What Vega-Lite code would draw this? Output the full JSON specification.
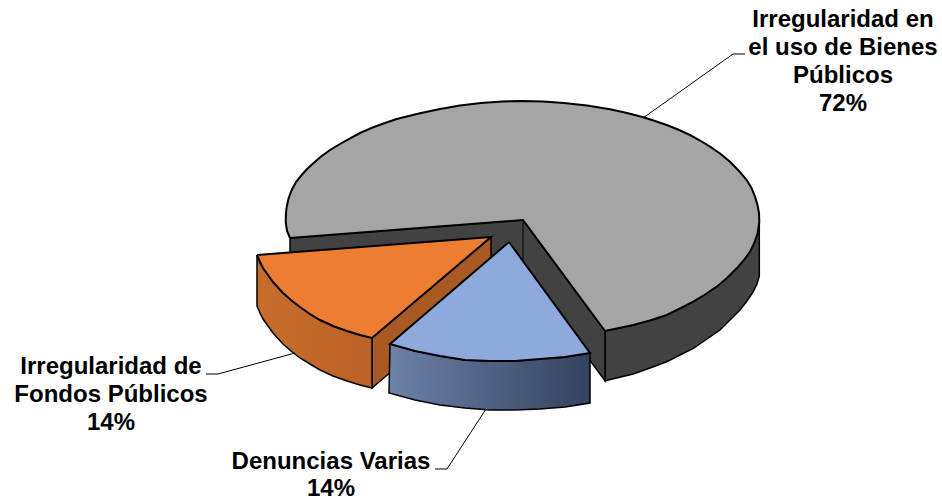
{"$schema":"https://vega.github.io/schema/vega-lite/v6.json","width":942,"height":500,"autosize":{"type":"none"},"padding":0,"background":"white","view":{"stroke":null},
"datasets":{
"outline":[
{"piece":"wallOuter","i":1,"x":605,"y":331},{"piece":"wallOuter","i":2,"x":633.3,"y":325},{"piece":"wallOuter","i":3,"x":666.7,"y":315},{"piece":"wallOuter","i":4,"x":693.3,"y":301.7},{"piece":"wallOuter","i":5,"x":716.7,"y":286.7},{"piece":"wallOuter","i":6,"x":736.7,"y":268.3},{"piece":"wallOuter","i":7,"x":750,"y":251.7},{"piece":"wallOuter","i":8,"x":757.7,"y":233},{"piece":"wallOuter","i":9,"x":759.3,"y":222},{"piece":"wallOuter","i":10,"x":759.3,"y":276},{"piece":"wallOuter","i":11,"x":757,"y":284},{"piece":"wallOuter","i":12,"x":753.3,"y":291.7},{"piece":"wallOuter","i":13,"x":747,"y":301},{"piece":"wallOuter","i":14,"x":740,"y":310},{"piece":"wallOuter","i":15,"x":730,"y":320},{"piece":"wallOuter","i":16,"x":720,"y":330},{"piece":"wallOuter","i":17,"x":707,"y":339},{"piece":"wallOuter","i":18,"x":693.3,"y":348.3},{"piece":"wallOuter","i":19,"x":680,"y":355},{"piece":"wallOuter","i":20,"x":666.7,"y":361.7},{"piece":"wallOuter","i":21,"x":650,"y":368},{"piece":"wallOuter","i":22,"x":633.3,"y":374},{"piece":"wallOuter","i":23,"x":605,"y":380.7},{"piece":"wallOuter","i":24,"x":605,"y":331},
{"piece":"wallInner","i":1,"x":290,"y":238},{"piece":"wallInner","i":2,"x":523,"y":220},{"piece":"wallInner","i":3,"x":605,"y":331},{"piece":"wallInner","i":4,"x":605,"y":380.7},{"piece":"wallInner","i":5,"x":523,"y":270},{"piece":"wallInner","i":6,"x":290,"y":288},{"piece":"wallInner","i":7,"x":290,"y":238},
{"piece":"top","i":1,"x":290,"y":238},{"piece":"top","i":2,"x":287,"y":231},{"piece":"top","i":3,"x":285.7,"y":222},{"piece":"top","i":4,"x":285.9,"y":214},{"piece":"top","i":5,"x":286.7,"y":206.7},{"piece":"top","i":6,"x":288.7,"y":198},{"piece":"top","i":7,"x":291.7,"y":190},{"piece":"top","i":8,"x":296,"y":182},{"piece":"top","i":9,"x":301.7,"y":175},{"piece":"top","i":10,"x":307,"y":169},{"piece":"top","i":11,"x":313.3,"y":163.3},{"piece":"top","i":12,"x":321,"y":156.5},{"piece":"top","i":13,"x":330,"y":150},{"piece":"top","i":14,"x":340,"y":144},{"piece":"top","i":15,"x":350,"y":138.3},{"piece":"top","i":16,"x":361,"y":132.5},{"piece":"top","i":17,"x":373.3,"y":127.3},{"piece":"top","i":18,"x":385,"y":123},{"piece":"top","i":19,"x":396.7,"y":119},{"piece":"top","i":20,"x":420,"y":113.3},{"piece":"top","i":21,"x":440,"y":109},{"piece":"top","i":22,"x":460,"y":105.5},{"piece":"top","i":23,"x":481,"y":103},{"piece":"top","i":24,"x":502,"y":101.5},{"piece":"top","i":25,"x":522,"y":101},{"piece":"top","i":26,"x":543,"y":101.5},{"piece":"top","i":27,"x":564,"y":103},{"piece":"top","i":28,"x":587,"y":105.5},{"piece":"top","i":29,"x":610,"y":109.3},{"piece":"top","i":30,"x":627,"y":113},{"piece":"top","i":31,"x":643.3,"y":117.3},{"piece":"top","i":32,"x":655,"y":121},{"piece":"top","i":33,"x":666.7,"y":125},{"piece":"top","i":34,"x":678,"y":129.5},{"piece":"top","i":35,"x":690,"y":135},{"piece":"top","i":36,"x":700,"y":140.5},{"piece":"top","i":37,"x":710,"y":146.7},{"piece":"top","i":38,"x":720,"y":153.5},{"piece":"top","i":39,"x":730,"y":161.7},{"piece":"top","i":40,"x":739,"y":171},{"piece":"top","i":41,"x":746.7,"y":180},{"piece":"top","i":42,"x":751.5,"y":188},{"piece":"top","i":43,"x":755,"y":196.7},{"piece":"top","i":44,"x":757.5,"y":205},{"piece":"top","i":45,"x":759,"y":213},{"piece":"top","i":46,"x":759.3,"y":222},{"piece":"top","i":47,"x":757.7,"y":233},{"piece":"top","i":48,"x":754.5,"y":242.5},{"piece":"top","i":49,"x":750,"y":251.7},{"piece":"top","i":50,"x":744,"y":260},{"piece":"top","i":51,"x":736.7,"y":268.3},{"piece":"top","i":52,"x":727,"y":278},{"piece":"top","i":53,"x":716.7,"y":286.7},{"piece":"top","i":54,"x":705,"y":294.5},{"piece":"top","i":55,"x":693.3,"y":301.7},{"piece":"top","i":56,"x":680,"y":308.5},{"piece":"top","i":57,"x":666.7,"y":315},{"piece":"top","i":58,"x":650,"y":320.5},{"piece":"top","i":59,"x":633.3,"y":325},{"piece":"top","i":60,"x":605,"y":331},{"piece":"top","i":61,"x":523,"y":220},{"piece":"top","i":62,"x":290,"y":238},
{"piece":"seam","i":1,"x":523,"y":220},{"piece":"seam","i":2,"x":523,"y":270},
{"piece":"orangeInner","i":1,"x":372,"y":338},{"piece":"orangeInner","i":2,"x":491,"y":237},{"piece":"orangeInner","i":3,"x":491,"y":287},{"piece":"orangeInner","i":4,"x":372,"y":388},{"piece":"orangeInner","i":5,"x":372,"y":338},
{"piece":"orangeSide","i":1,"x":257,"y":255},{"piece":"orangeSide","i":2,"x":260,"y":262},{"piece":"orangeSide","i":3,"x":263,"y":268},{"piece":"orangeSide","i":4,"x":268,"y":275},{"piece":"orangeSide","i":5,"x":273,"y":282},{"piece":"orangeSide","i":6,"x":283,"y":293},{"piece":"orangeSide","i":7,"x":291,"y":300},{"piece":"orangeSide","i":8,"x":300,"y":307},{"piece":"orangeSide","i":9,"x":310,"y":314},{"piece":"orangeSide","i":10,"x":320,"y":320},{"piece":"orangeSide","i":11,"x":333,"y":326},{"piece":"orangeSide","i":12,"x":347,"y":331},{"piece":"orangeSide","i":13,"x":360,"y":335},{"piece":"orangeSide","i":14,"x":372,"y":338},{"piece":"orangeSide","i":15,"x":372,"y":388},{"piece":"orangeSide","i":16,"x":360,"y":385},{"piece":"orangeSide","i":17,"x":347,"y":381},{"piece":"orangeSide","i":18,"x":333,"y":376},{"piece":"orangeSide","i":19,"x":320,"y":370},{"piece":"orangeSide","i":20,"x":310,"y":364},{"piece":"orangeSide","i":21,"x":300,"y":358},{"piece":"orangeSide","i":22,"x":291,"y":351},{"piece":"orangeSide","i":23,"x":283,"y":344},{"piece":"orangeSide","i":24,"x":273,"y":333},{"piece":"orangeSide","i":25,"x":268,"y":326},{"piece":"orangeSide","i":26,"x":263,"y":319},{"piece":"orangeSide","i":27,"x":260,"y":313},{"piece":"orangeSide","i":28,"x":257,"y":306},{"piece":"orangeSide","i":29,"x":257,"y":255},
{"piece":"orangeTop","i":1,"x":257,"y":255},{"piece":"orangeTop","i":2,"x":491,"y":237},{"piece":"orangeTop","i":3,"x":372,"y":338},{"piece":"orangeTop","i":4,"x":360,"y":335},{"piece":"orangeTop","i":5,"x":347,"y":331},{"piece":"orangeTop","i":6,"x":333,"y":326},{"piece":"orangeTop","i":7,"x":320,"y":320},{"piece":"orangeTop","i":8,"x":310,"y":314},{"piece":"orangeTop","i":9,"x":300,"y":307},{"piece":"orangeTop","i":10,"x":291,"y":300},{"piece":"orangeTop","i":11,"x":283,"y":293},{"piece":"orangeTop","i":12,"x":273,"y":282},{"piece":"orangeTop","i":13,"x":268,"y":275},{"piece":"orangeTop","i":14,"x":263,"y":268},{"piece":"orangeTop","i":15,"x":260,"y":262},{"piece":"orangeTop","i":16,"x":257,"y":255},
{"piece":"blueSide","i":1,"x":390,"y":344},{"piece":"blueSide","i":2,"x":415,"y":351},{"piece":"blueSide","i":3,"x":440,"y":356},{"piece":"blueSide","i":4,"x":465,"y":360},{"piece":"blueSide","i":5,"x":490,"y":361},{"piece":"blueSide","i":6,"x":515,"y":361},{"piece":"blueSide","i":7,"x":540,"y":359},{"piece":"blueSide","i":8,"x":565,"y":357},{"piece":"blueSide","i":9,"x":590,"y":353},{"piece":"blueSide","i":10,"x":590,"y":403},{"piece":"blueSide","i":11,"x":565,"y":407},{"piece":"blueSide","i":12,"x":540,"y":409},{"piece":"blueSide","i":13,"x":515,"y":410},{"piece":"blueSide","i":14,"x":490,"y":410},{"piece":"blueSide","i":15,"x":465,"y":408},{"piece":"blueSide","i":16,"x":440,"y":405},{"piece":"blueSide","i":17,"x":415,"y":400},{"piece":"blueSide","i":18,"x":389,"y":393},{"piece":"blueSide","i":19,"x":390,"y":344},
{"piece":"blueTop","i":1,"x":509,"y":242},{"piece":"blueTop","i":2,"x":590,"y":353},{"piece":"blueTop","i":3,"x":565,"y":357},{"piece":"blueTop","i":4,"x":540,"y":359},{"piece":"blueTop","i":5,"x":515,"y":361},{"piece":"blueTop","i":6,"x":490,"y":361},{"piece":"blueTop","i":7,"x":465,"y":360},{"piece":"blueTop","i":8,"x":440,"y":356},{"piece":"blueTop","i":9,"x":415,"y":351},{"piece":"blueTop","i":10,"x":390,"y":344},{"piece":"blueTop","i":11,"x":509,"y":242},
{"piece":"leader1","i":1,"x":643,"y":118},{"piece":"leader1","i":2,"x":733,"y":54},{"piece":"leader1","i":3,"x":745,"y":54},
{"piece":"leader2","i":1,"x":295,"y":353},{"piece":"leader2","i":2,"x":218,"y":374},{"piece":"leader2","i":3,"x":206,"y":374},
{"piece":"leader3","i":1,"x":486,"y":409},{"piece":"leader3","i":2,"x":447,"y":469},{"piece":"leader3","i":3,"x":435,"y":469}
],
"labels":[
{"text":"Irregularidad en","x":843,"y":20},{"text":"el uso de Bienes","x":843,"y":48},{"text":"Públicos","x":843,"y":76},{"text":"72%","x":843,"y":104},
{"text":"Irregularidad de","x":111,"y":367},{"text":"Fondos Públicos","x":111,"y":395},{"text":"14%","x":111,"y":423},
{"text":"Denuncias Varias","x":331,"y":462},{"text":"14%","x":331,"y":489}
]},
"encoding":{
"x":{"field":"x","type":"quantitative","scale":{"domain":[0,942],"nice":false,"zero":false},"axis":null},
"y":{"field":"y","type":"quantitative","scale":{"domain":[500,0],"nice":false,"zero":false},"axis":null},
"order":{"field":"i"}},
"layer":[
{"data":{"name":"outline"},"transform":[{"filter":"datum.piece=='wallOuter'"}],"mark":{"type":"line","fill":"#424242","stroke":"#000000","strokeWidth":1.5,"strokeJoin":"miter"}},
{"data":{"name":"outline"},"transform":[{"filter":"datum.piece=='wallInner'"}],"mark":{"type":"line","fill":"#424242","stroke":"#000000","strokeWidth":1.5,"strokeJoin":"miter"}},
{"data":{"name":"outline"},"transform":[{"filter":"datum.piece=='seam'"}],"mark":{"type":"line","stroke":"#000000","strokeWidth":1}},
{"data":{"name":"outline"},"transform":[{"filter":"datum.piece=='top'"}],"mark":{"type":"line","fill":"#A5A5A5","stroke":"#000000","strokeWidth":2,"strokeJoin":"miter"}},
{"data":{"name":"outline"},"transform":[{"filter":"datum.piece=='orangeInner'"}],"mark":{"type":"line","fill":"#A85A22","stroke":"#000000","strokeWidth":1.5,"strokeJoin":"miter"}},
{"data":{"name":"outline"},"transform":[{"filter":"datum.piece=='orangeSide'"}],"mark":{"type":"line","fill":{"gradient":"linear","x1":0,"x2":1,"y1":0,"y2":0,"stops":[{"offset":0,"color":"#C76D2C"},{"offset":1,"color":"#BC6226"}]},"stroke":"#000000","strokeWidth":1.5,"strokeJoin":"miter"}},
{"data":{"name":"outline"},"transform":[{"filter":"datum.piece=='orangeTop'"}],"mark":{"type":"line","fill":"#ED7D31","stroke":"#000000","strokeWidth":2,"strokeJoin":"miter"}},
{"data":{"name":"outline"},"transform":[{"filter":"datum.piece=='blueSide'"}],"mark":{"type":"line","fill":{"gradient":"linear","x1":0,"x2":1,"y1":0,"y2":0,"stops":[{"offset":0,"color":"#6C82A8"},{"offset":1,"color":"#34425E"}]},"stroke":"#000000","strokeWidth":1.5,"strokeJoin":"miter"}},
{"data":{"name":"outline"},"transform":[{"filter":"datum.piece=='blueTop'"}],"mark":{"type":"line","fill":"#8EA9DB","stroke":"#000000","strokeWidth":2,"strokeJoin":"miter"}},
{"data":{"name":"outline"},"transform":[{"filter":"datum.piece=='leader1' || datum.piece=='leader2' || datum.piece=='leader3'"}],"mark":{"type":"line","stroke":"#000000","strokeWidth":1},"encoding":{"detail":{"field":"piece"}}},
{"data":{"name":"labels"},"mark":{"type":"text","font":"Liberation Sans","fontWeight":"bold","fontSize":24,"color":"#000000","align":"center","baseline":"middle"},"encoding":{"text":{"field":"text"},"order":{"value":null}}}
]}
